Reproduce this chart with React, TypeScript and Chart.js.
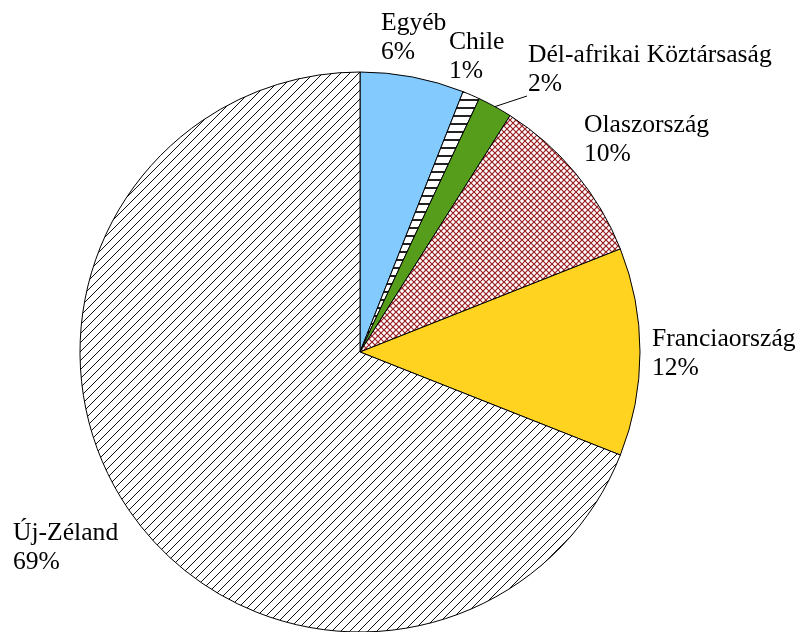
import React, { useEffect, useRef } from 'react';
import { Chart, registerables } from 'chart.js';

Chart.register(...registerables);

// ---- data ----
const categories = ['Egyéb', 'Chile', 'Dél-afrikai Köztársaság', 'Olaszország', 'Franciaország', 'Új-Zéland'];
const shares = [6, 1, 2, 10, 12, 69];
const percentLabels = ['6%', '1%', '2%', '10%', '12%', '69%'];

// ---- layout (text placement relative to pie centre, first baseline) ----
const labelOffsets: [number, number][] = [
  [21, -322],
  [89, -303],
  [168, -290],
  [224, -220],
  [292, -6],
  [-347, 188],
];
const leaderEnd: [number, number] = [167, -256];
const LINE_GAP = 29;
const FONT = '25.6px "Liberation Serif", "Times New Roman", Times, serif';

function makePattern(kind: string): CanvasPattern | string {
  const c = document.createElement('canvas');
  const ctx = c.getContext('2d');
  if (!ctx) return '#fff';
  if (kind === 'diag') {
    const s = 9;
    c.width = s; c.height = s;
    ctx.fillStyle = '#fff';
    ctx.fillRect(0, 0, s, s);
    ctx.strokeStyle = '#111';
    ctx.lineWidth = 1;
    ctx.beginPath();
    ctx.moveTo(-1, s + 1); ctx.lineTo(s + 1, -1);
    ctx.moveTo(-1, 1); ctx.lineTo(1, -1);
    ctx.moveTo(s - 1, s + 1); ctx.lineTo(s + 1, s - 1);
    ctx.stroke();
  } else if (kind === 'horiz') {
    c.width = 8; c.height = 8;
    ctx.fillStyle = '#fff';
    ctx.fillRect(0, 0, 8, 8);
    ctx.fillStyle = '#222';
    ctx.fillRect(0, 3, 8, 2);
  } else if (kind === 'cross') {
    const s = 6;
    c.width = s; c.height = s;
    ctx.fillStyle = '#fff';
    ctx.fillRect(0, 0, s, s);
    ctx.strokeStyle = '#9A1E22';
    ctx.lineWidth = 1.2;
    ctx.beginPath();
    ctx.moveTo(-1, -1); ctx.lineTo(s + 1, s + 1);
    ctx.moveTo(-1, s + 1); ctx.lineTo(s + 1, -1);
    ctx.stroke();
  }
  const p = ctx.createPattern(c, 'repeat');
  return p || '#fff';
}

const labelPlugin = {
  id: 'sliceLabels',
  afterDatasetsDraw(chart: any) {
    const meta = chart.getDatasetMeta(0);
    if (!meta || !meta.data.length) return;
    const ctx = chart.ctx;
    const first = meta.data[0];
    const cx = first.x;
    const cy = first.y;
    ctx.save();
    const arc = meta.data[2];
    const { startAngle, endAngle, outerRadius } = arc.getProps(['startAngle', 'endAngle', 'outerRadius'], true);
    const mid = (startAngle + endAngle) / 2;
    ctx.strokeStyle = '#000';
    ctx.lineWidth = 1;
    ctx.beginPath();
    ctx.moveTo(cx + Math.cos(mid) * outerRadius, cy + Math.sin(mid) * outerRadius);
    ctx.lineTo(cx + leaderEnd[0], cy + leaderEnd[1]);
    ctx.stroke();

    ctx.fillStyle = '#000';
    ctx.font = FONT;
    ctx.textAlign = 'left';
    ctx.textBaseline = 'alphabetic';
    categories.forEach((name, i) => {
      const [dx, dy] = labelOffsets[i];
      ctx.fillText(name, cx + dx, cy + dy);
      ctx.fillText(percentLabels[i], cx + dx, cy + dy + LINE_GAP);
    });
    ctx.restore();
  },
};

export default function App() {
  const ref = useRef<HTMLCanvasElement | null>(null);
  useEffect(() => {
    let chart: Chart | null = null;
    let cancelled = false;
    const build = () => {
      if (cancelled || !ref.current) return;
      const fills = [
        '#83CAFF',
        makePattern('horiz'),
        '#579D1C',
        makePattern('cross'),
        '#FFD320',
        makePattern('diag'),
      ];
      chart = new Chart(ref.current, {
        type: 'pie',
        data: {
          labels: categories,
          datasets: [
            {
              data: shares,
              backgroundColor: fills as any,
              borderColor: '#000',
              borderWidth: 1,
            },
          ],
        },
        options: {
          responsive: false,
          animation: false,
          devicePixelRatio: 1,
          radius: 280,
          layout: { padding: { left: 0, right: 82, top: 72, bottom: 0 } },
          plugins: {
            legend: { display: false },
            tooltip: { enabled: false },
          },
        } as any,
        plugins: [labelPlugin],
      });
    };
    const fonts: any = (document as any).fonts;
    if (fonts && fonts.load) {
      fonts.load(FONT, 'Dél-afrikai Köztársaság').then(build, build);
    } else {
      build();
    }
    return () => {
      cancelled = true;
      if (chart) chart.destroy();
    };
  }, []);
  return (
    <div style={{ position: 'fixed', left: 0, top: 0, width: 802, height: 632, background: '#fff' }}>
      <canvas ref={ref} width={802} height={632} style={{ width: 802, height: 632, display: 'block' }} />
    </div>
  );
}
